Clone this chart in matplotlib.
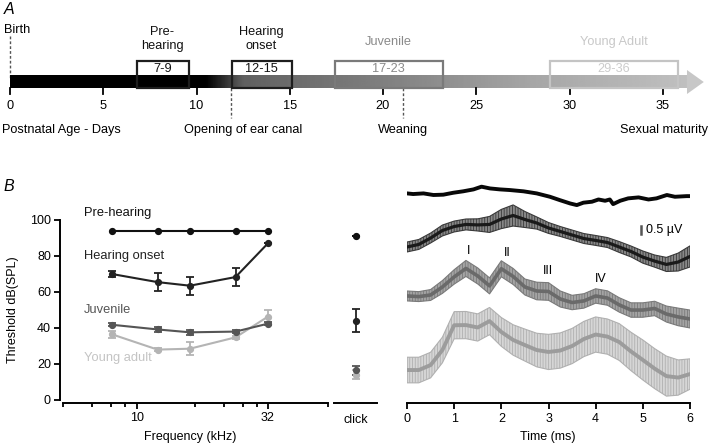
import numpy as np
import matplotlib
matplotlib.use('Agg')
import matplotlib.pyplot as plt
from matplotlib.patches import Rectangle, Polygon
from matplotlib.ticker import NullFormatter

plt.rcParams['font.family'] = ['Liberation Sans', 'DejaVu Sans']
plt.rcParams['hatch.linewidth'] = 0.6

# ---- data ----
# panel A: developmental stages (days)
stage_names = ['Pre-\nhearing', 'Hearing\nonset', 'Juvenile', 'Young Adult']
stage_ranges = [(6.8, 9.6), (11.9, 15.1), (17.4, 23.2), (28.95, 35.8)]
stage_labels = ['7-9', '12-15', '17-23', '29-36']
day_ticks = [0, 5, 10, 15, 20, 25, 30, 35]
ear_canal_day = 11.85
weaning_day = 21.05

# panel B left: thresholds
freqs = [8, 12, 16, 24, 32]
thr_pre = [94, 94, 94, 94, 94]
thr_onset = [70, 65.5, 63.5, 68.3, 87]
err_onset = [1.5, 4.8, 5, 5, 0]
thr_juv = [41.8, 39.2, 37.6, 38, 42.4]
err_juv = [0.8, 1.5, 1.5, 0.8, 0.8]
thr_adult = [36.5, 28, 28.5, 34.8, 46.3]
err_adult = [2, 0.8, 3.5, 1, 3.5]
group_names = ['Pre-hearing', 'Hearing onset', 'Juvenile', 'Young adult']

# click thresholds
click_thr = [91, 44, 16.5, 14]
click_err = [0, 6.3, 2.5, 2.5]

# panel B right: ABR waveforms (µV, relative to each trace start)
t_pre = [0, 0.13, 0.35, 0.56, 0.77, 0.98, 1.19, 1.41, 1.58, 1.76, 1.97, 2.18,
         2.47, 2.75, 3.03, 3.24, 3.46, 3.6, 3.74, 3.92, 4.06, 4.2, 4.3, 4.37,
         4.52, 4.69, 4.91, 5.12, 5.29, 5.51, 5.68, 5.93, 6.0]
abr_pre = [0, -0.04, 0, -0.10, -0.08, 0.04, 0.13, 0.25, 0.42, 0.31, 0.25, 0.21,
           0.13, 0, -0.21, -0.42, -0.63, -0.73, -0.58, -0.52, -0.38, -0.46, -0.38, -0.67,
           -0.46, -0.31, -0.25, -0.38, -0.31, -0.10, -0.21, -0.17, -0.17]

t_abr = [0, 0.25, 0.5, 0.75, 1.0, 1.25, 1.5, 1.75, 2.0, 2.25, 2.5, 2.75, 3.0,
         3.25, 3.5, 3.75, 4.0, 4.25, 4.5, 4.75, 5.0, 5.25, 5.5, 5.75, 6.0]
abr_onset = [0, 0.16, 0.56, 1.03, 1.28, 1.41, 1.38, 1.41, 1.75, 1.97, 1.72, 1.5, 1.19,
             0.97, 0.75, 0.53, 0.41, 0.28, 0, -0.28, -0.63, -0.88, -1.09, -0.94, -0.59]
sem_onset = [0.31, 0.31, 0.31, 0.34, 0.34, 0.34, 0.38, 0.5, 0.6, 0.66, 0.5, 0.38, 0.34,
             0.31, 0.31, 0.31, 0.31, 0.31, 0.34, 0.34, 0.38, 0.38, 0.44, 0.56, 0.66]
abr_juv = [0, -0.04, 0.06, 0.56, 1.19, 1.72, 1.25, 0.63, 1.7, 1.22, 0.56, 0.31, 0.28,
           -0.19, -0.41, -0.31, 0, -0.13, -0.56, -0.88, -0.88, -0.78, -1.13, -1.31, -1.44]
sem_juv = [0.31, 0.31, 0.34, 0.4, 0.45, 0.5, 0.5, 0.5, 0.5, 0.5, 0.5, 0.55, 0.55,
           0.5, 0.45, 0.45, 0.45, 0.45, 0.45, 0.45, 0.45, 0.45, 0.5, 0.55, 0.56]
abr_adult = [0, 0, 0.31, 1.25, 2.8, 2.81, 2.66, 3.06, 2.38, 1.88, 1.56, 1.25, 1.13,
             1.22, 1.5, 1.94, 2.22, 2.09, 1.75, 1.16, 0.63, 0.09, -0.38, -0.47, -0.25]
sem_adult = [0.8, 0.8, 0.8, 0.8, 0.85, 0.85, 0.85, 0.85, 0.9, 0.95, 1.0, 1.05, 1.1,
             1.1, 1.1, 1.1, 1.1, 1.1, 1.15, 1.2, 1.25, 1.25, 1.25, 1.1, 0.95]
wave_names = ['I', 'II', 'III', 'IV']

# ---- layout helpers (pixels) ----
W, H = 710, 447
fig = plt.figure(figsize=(W / 100, H / 100), dpi=100)

def fx(px):
    return px / W

def fy(py):
    return 1 - py / H

FS = 9.2

# ================= panel A =================
px_per_day = 18.65
ax_a = fig.add_axes([0, fy(140), 1, 140 / H])
ax_a.axis('off')

bar_end = 36.3
gx = np.linspace(0, bar_end, 400)
gray = np.interp(gx, [0, 10.5, 12.5, 20, 28, bar_end], [0, 0, 0.38, 0.5, 0.65, 0.75])
ax_a.imshow(gray[np.newaxis, :], cmap='gray', vmin=0, vmax=1,
            extent=(0, bar_end, 88, 76), aspect='auto', zorder=1)
ax_a.add_patch(Polygon([(bar_end, 70), (bar_end + 0.9, 82), (bar_end, 94)],
                       closed=True, color='0.78', lw=0, zorder=1))

for d in day_ticks:
    ax_a.plot([d, d], [88, 94], color='black', lw=1.3, zorder=2)
    ax_a.text(d, 106, str(d), ha='center', va='center', fontsize=FS)

box_edges = ['#1e1e1e', '#1e1e1e', '#7a7a7a', '#c4c4c4']
box_text = ['#111111', '#111111', '#8a8a8a', '#cccccc']
name_cols = ['#111111', '#111111', '#8a8a8a', '#c8c8c8']
for (d0, d1), lab, nm, ec, tc, nc in zip(stage_ranges, stage_labels, stage_names,
                                         box_edges, box_text, name_cols):
    ax_a.add_patch(Rectangle((d0, 61), d1 - d0, 15, facecolor='white', lw=0, zorder=0))
    ax_a.add_patch(Rectangle((d0, 61), d1 - d0, 27, facecolor='none', edgecolor=ec,
                             lw=1.6, zorder=3))
    ax_a.text((d0 + d1) / 2, 69, lab, ha='center', va='center', fontsize=FS, color=tc)
    if '\n' in nm:
        ax_a.text((d0 + d1) / 2 - 0.05, 39, nm, ha='center', va='center', fontsize=FS,
                  color=nc, linespacing=1.2)
    else:
        ax_a.text((d0 + d1) / 2, 42, nm, ha='center', va='center', fontsize=FS, color=nc)

ax_a.plot([0, 0], [36, 78], ls=(0, (2, 1.5)), color='#555555', lw=1, zorder=0)
ax_a.plot([ear_canal_day] * 2, [88, 118], ls=(0, (2, 1.5)), color='#555555', lw=1)
ax_a.plot([weaning_day] * 2, [88, 118], ls=(0, (2, 1.5)), color='#555555', lw=1)

ax_a.text(-0.32, 30, 'Birth', ha='left', va='center', fontsize=FS)
ax_a.text(-0.43, 130, 'Postnatal Age - Days', ha='left', va='center', fontsize=FS)
ax_a.text(12.5, 130, 'Opening of ear canal', ha='center', va='center', fontsize=FS)
ax_a.text(weaning_day, 130, 'Weaning', ha='center', va='center', fontsize=FS)
ax_a.text(37.45, 130, 'Sexual maturity', ha='right', va='center', fontsize=FS)
ax_a.set_xlim(-10 / px_per_day, 700 / px_per_day)
ax_a.set_ylim(140, 0)

fig.text(fx(4), fy(10), 'A', fontsize=11.5, style='italic', ha='left', va='center')
fig.text(fx(4), fy(186), 'B', fontsize=11.5, style='italic', ha='left', va='center')

# ================= panel B left =================
out3 = 3 * 0.72
ax_b = fig.add_axes([fx(63), fy(400), 265 / W, 180 / H])
ax_b.set_xscale('log')
cols = ['#111111', '#222222', '#555555', '#b4b4b4']
txt_cols = ['#111111', '#222222', '#555555', '#c4c4c4']
series = [(thr_pre, None), (thr_onset, err_onset), (thr_juv, err_juv), (thr_adult, err_adult)]
for i in [3, 2, 1, 0]:
    vals, err = series[i]
    ax_b.errorbar(freqs, vals, yerr=err, color=cols[i], marker='o', ms=4.2, lw=1.5,
                  elinewidth=1.3, capsize=2.6, capthick=1.3, clip_on=False)
label_y = [104, 80, 50, 23.3]
for nm, ly, c in zip(group_names, label_y, txt_cols):
    ax_b.text(6.24, ly, nm, ha='left', va='center', fontsize=9.3, color=c)

ax_b.set_xlim(5.18, 54.6)
ax_b.set_ylim(0, 100)
for s in ['top', 'right']:
    ax_b.spines[s].set_visible(False)
ax_b.spines['left'].set_position(('outward', out3))
ax_b.spines['bottom'].set_position(('outward', out3))
ax_b.spines['left'].set_linewidth(1.4)
ax_b.spines['bottom'].set_linewidth(1.4)
ax_b.set_yticks([0, 20, 40, 60, 80, 100])
ax_b.set_xticks([10, 32])
ax_b.set_xticklabels(['10', '32'])
ax_b.set_xticks([5.18, 6.7, 7.93, 9.0, 16.7, 21.7, 25.6, 29.0, 54.6], minor=True)
ax_b.xaxis.set_minor_formatter(NullFormatter())
ax_b.tick_params(axis='both', which='major', length=4.5, width=1.3, labelsize=9, pad=2)
ax_b.tick_params(axis='x', which='minor', length=3, width=1.3)
fig.text(fx(13), fy(310), 'Threshold dB(SPL)', rotation=90, fontsize=9,
         ha='center', va='center')
fig.text(fx(190), fy(437), 'Frequency (kHz)', fontsize=9, ha='center', va='center')

# click
ax_c = fig.add_axes([fx(334), fy(400), 43 / W, 180 / H])
ax_c.set_xlim(-1, 1)
ax_c.set_ylim(0, 100)
for i in [3, 2, 1, 0]:
    ax_c.errorbar([0], [click_thr[i]], yerr=[click_err[i]], color=cols[i], marker='o',
                  ms=4.2, elinewidth=1.3, capsize=2.6, capthick=1.3)
for s in ['top', 'right', 'left']:
    ax_c.spines[s].set_visible(False)
ax_c.spines['bottom'].set_position(('outward', out3))
ax_c.spines['bottom'].set_linewidth(1.4)
ax_c.set_yticks([])
ax_c.set_xticks([0])
ax_c.set_xticklabels(['click'])
ax_c.tick_params(axis='x', length=0, labelsize=9, pad=8)

# ================= panel B right =================
px_per_uv = 16
ax_r = fig.add_axes([fx(407), fy(403), 283 / W, 223 / H])
ax_r.set_xlim(0, 6)
ax_r.set_ylim(0, 223 / px_per_uv)
offsets = [13.1, 9.75, 6.69, 2.06]

bands = [(abr_adult, sem_adult, offsets[3], '#9c9c9c', '#d6d6d6', '#b0b0b0', 2.8),
         (abr_juv, sem_juv, offsets[2], '#6a6a6a', '#a4a4a4', '#7a7a7a', 2.6),
         (abr_onset, sem_onset, offsets[1], '#1a1a1a', '#888888', '#3a3a3a', 2.3)]
for m, s, off, lc, fc, ec, lw in bands:
    m = np.array(m) + off
    s = np.array(s)
    ax_r.fill_between(t_abr, m - s, m + s, facecolor=fc, edgecolor=ec, hatch='||||||',
                      lw=0.8)
    ax_r.plot(t_abr, m, color=lc, lw=lw, solid_capstyle='round', solid_joinstyle='round')
ax_r.plot(t_pre, np.array(abr_pre) + offsets[0], color='#080808', lw=2.8,
          solid_joinstyle='round')

wave_t = [1.31, 2.12, 2.98, 4.1]
wave_y = [9.5, 9.4, 8.25, 7.75]
for nm, wt, wy in zip(wave_names, wave_t, wave_y):
    ax_r.text(wt, wy, nm, ha='center', va='center', fontsize=9)

# scale bar 0.5 µV
sb_t = (641 - 407) / 47.17
sb_y = (403 - 234) / px_per_uv
ax_r.plot([sb_t, sb_t], [sb_y, sb_y + 0.5], color='#555555', lw=1.8)
ax_r.text(sb_t + 0.1, sb_y + 0.25, '0.5 µV', fontsize=9, ha='left', va='center')

for s in ['top', 'right', 'left']:
    ax_r.spines[s].set_visible(False)
ax_r.spines['bottom'].set_linewidth(1.4)
ax_r.set_yticks([])
ax_r.set_xticks([0, 1, 2, 3, 4, 5, 6])
ax_r.tick_params(axis='x', length=4.5, width=1.3, labelsize=9, pad=3)
fig.text(fx(548), fy(437), 'Time (ms)', fontsize=9, ha='center', va='center')

fig.savefig('out.png', dpi=100)
